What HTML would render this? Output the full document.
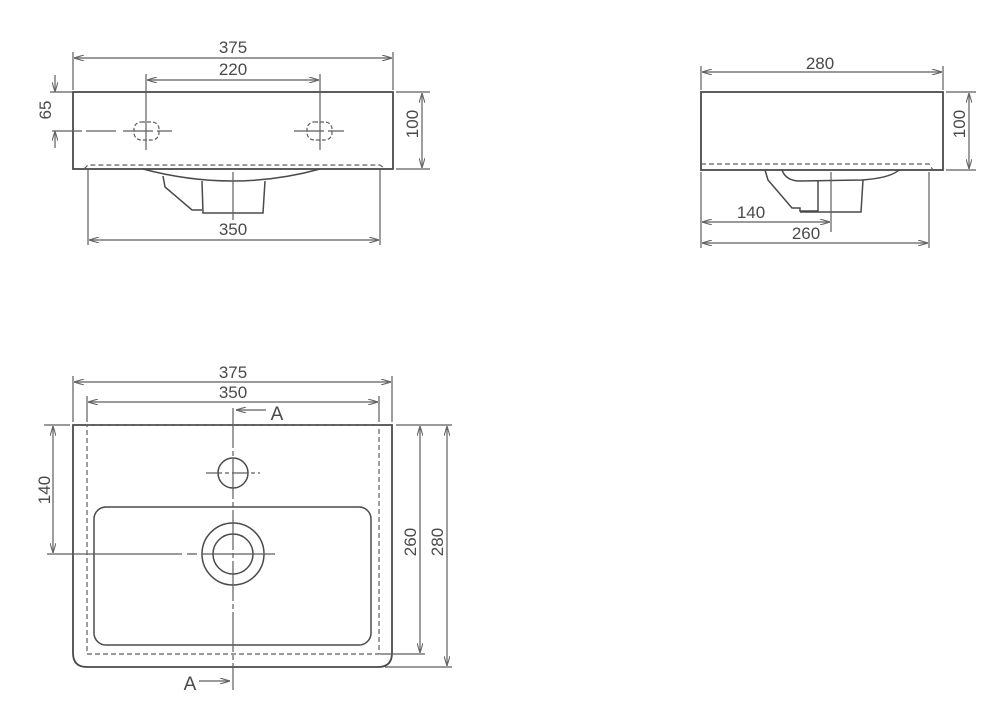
<!DOCTYPE html>
<html><head><meta charset="utf-8"><style>
html,body{margin:0;padding:0;background:#fff}
svg{display:block}
text{font-family:"Liberation Sans",Arial,sans-serif;font-size:17px;fill:#4a4a4a}
</style></head><body>
<svg width="1000" height="727" viewBox="0 0 1000 727" xmlns="http://www.w3.org/2000/svg">
<defs>
<marker id="a" markerWidth="10" markerHeight="6" refX="10" refY="3" orient="auto-start-reverse" markerUnits="userSpaceOnUse"><path d="M0,0 L10,3 L0,6" fill="none" stroke="#666" stroke-width="1.1"/></marker>
</defs>
<g fill="none" stroke="#5e5e5e" stroke-width="1.2">
<!-- FRONT VIEW -->
<rect x="73" y="92" width="320" height="77" stroke="#4a4a4a" stroke-width="1.8"/>
<path d="M84,169 L88,165 L380,165 L385,169" stroke-dasharray="5,3"/>
<path d="M143,169 Q233,193 320,169" stroke="#4a4a4a" stroke-width="1.5"/>
<path d="M163,176 L165,187 L192,210 L202,210" stroke="#4a4a4a" stroke-width="1.5"/>
<path d="M202,181 L203,213 L263,213 L265,181" stroke="#4a4a4a" stroke-width="1.5"/>
<line x1="233" y1="172" x2="233" y2="220"/>
<rect x="134" y="122" width="25" height="18" rx="7" stroke-dasharray="4,2"/>
<rect x="307" y="122" width="25" height="18" rx="7" stroke-dasharray="4,2"/>
<path d="M52,131 L118,131 M123,131 L172,131 M294,131 L344,131" stroke-dasharray="30,4"/>
<line x1="146" y1="74" x2="146" y2="150"/><line x1="320" y1="74" x2="320" y2="150"/>
<line x1="73" y1="52" x2="73" y2="90"/><line x1="393" y1="52" x2="393" y2="90"/>
<line x1="74" y1="58" x2="392" y2="58" marker-start="url(#a)" marker-end="url(#a)"/>
<line x1="147" y1="80" x2="319" y2="80" marker-start="url(#a)" marker-end="url(#a)"/>
<line x1="50" y1="92" x2="72" y2="92"/>
<line x1="55" y1="75" x2="55" y2="92" marker-end="url(#a)"/>
<line x1="55" y1="148" x2="55" y2="131" marker-end="url(#a)"/>
<line x1="396" y1="92" x2="430" y2="92"/><line x1="396" y1="169" x2="430" y2="169"/>
<line x1="422" y1="93" x2="422" y2="168" marker-start="url(#a)" marker-end="url(#a)"/>
<line x1="88" y1="170" x2="88" y2="245"/><line x1="380" y1="170" x2="380" y2="245"/>
<line x1="89" y1="240" x2="379" y2="240" marker-start="url(#a)" marker-end="url(#a)"/>
<!-- SIDE VIEW -->
<rect x="701" y="92" width="242" height="78" stroke="#4a4a4a" stroke-width="1.8"/>
<path d="M701,164 L929,164 L933,170" stroke-dasharray="5,3"/>
<path d="M765,170 L768,180 L792,208 L800,208 L800,211 L818,211 L818,181" stroke="#4a4a4a" stroke-width="1.5"/>
<path d="M782,170 Q786,181 800,181 L862,180 Q890,178 899,170" stroke="#4a4a4a" stroke-width="1.5"/>
<path d="M800,212 L861,212 L863,180" stroke="#4a4a4a" stroke-width="1.5"/>
<line x1="831" y1="172" x2="831" y2="232"/>
<line x1="701" y1="66" x2="701" y2="90"/><line x1="943" y1="66" x2="943" y2="90"/>
<line x1="702" y1="72" x2="942" y2="72" marker-start="url(#a)" marker-end="url(#a)"/>
<line x1="946" y1="92" x2="976" y2="92"/><line x1="946" y1="170" x2="976" y2="170"/>
<line x1="969" y1="93" x2="969" y2="169" marker-start="url(#a)" marker-end="url(#a)"/>
<line x1="701" y1="172" x2="701" y2="248"/><line x1="929" y1="172" x2="929" y2="248"/>
<line x1="702" y1="222" x2="830" y2="222" marker-start="url(#a)" marker-end="url(#a)"/>
<line x1="702" y1="243" x2="928" y2="243" marker-start="url(#a)" marker-end="url(#a)"/>
<!-- PLAN VIEW -->
<path d="M73,425 L392,425 L392,653 Q392,667 378,667 L87,667 Q73,667 73,653 Z" stroke="#4a4a4a" stroke-width="1.8"/>
<rect x="87" y="425" width="292" height="229" stroke-dasharray="5,3"/>
<rect x="94" y="507" width="277" height="138" rx="12" stroke="#4a4a4a" stroke-width="1.5"/>
<circle cx="233" cy="473" r="15" stroke="#4a4a4a" stroke-width="1.5"/>
<circle cx="233" cy="554" r="31" stroke="#4a4a4a" stroke-width="1.5"/>
<circle cx="233" cy="554" r="20" stroke="#4a4a4a" stroke-width="1.5"/>
<line x1="233" y1="408" x2="233" y2="690" stroke-dasharray="40,3,5,3"/>
<line x1="206" y1="473" x2="260" y2="473" stroke-dasharray="16,3,4,3"/>
<line x1="47" y1="554" x2="275" y2="554" stroke-dasharray="135,5,10,5"/>
<line x1="44" y1="425" x2="70" y2="425"/>
<line x1="53" y1="426" x2="53" y2="553" marker-start="url(#a)" marker-end="url(#a)"/>
<line x1="73" y1="376" x2="73" y2="422"/><line x1="392" y1="376" x2="392" y2="422"/>
<line x1="87" y1="396" x2="87" y2="422"/><line x1="379" y1="396" x2="379" y2="422"/>
<line x1="74" y1="382" x2="391" y2="382" marker-start="url(#a)" marker-end="url(#a)"/>
<line x1="88" y1="402" x2="378" y2="402" marker-start="url(#a)" marker-end="url(#a)"/>
<line x1="396" y1="425" x2="452" y2="425"/>
<line x1="380" y1="654" x2="425" y2="654"/>
<line x1="385" y1="667" x2="452" y2="667"/>
<line x1="420" y1="426" x2="420" y2="653" marker-start="url(#a)" marker-end="url(#a)"/>
<line x1="447" y1="426" x2="447" y2="666" marker-start="url(#a)" marker-end="url(#a)"/>
<line x1="266" y1="410" x2="236" y2="410" marker-end="url(#a)"/>
<line x1="199" y1="681" x2="230" y2="681" marker-end="url(#a)"/>
</g>
<text x="233" y="53" text-anchor="middle">375</text>
<text x="233" y="75" text-anchor="middle">220</text>
<text x="233" y="235" text-anchor="middle">350</text>
<text transform="translate(51,110) rotate(-90)" text-anchor="middle">65</text>
<text transform="translate(418,124) rotate(-90)" text-anchor="middle">100</text>
<text x="820" y="69" text-anchor="middle">280</text>
<text transform="translate(965,124) rotate(-90)" text-anchor="middle">100</text>
<text x="751" y="218" text-anchor="middle">140</text>
<text x="806" y="239" text-anchor="middle">260</text>
<text x="233" y="378" text-anchor="middle">375</text>
<text x="233" y="398" text-anchor="middle">350</text>
<text x="277" y="420" text-anchor="middle" style="font-size:19px">A</text>
<text x="190" y="690" text-anchor="middle" style="font-size:19px">A</text>
<text transform="translate(50,490) rotate(-90)" text-anchor="middle">140</text>
<text transform="translate(416,542) rotate(-90)" text-anchor="middle">260</text>
<text transform="translate(443,542) rotate(-90)" text-anchor="middle">280</text>
</svg>
</body></html>
